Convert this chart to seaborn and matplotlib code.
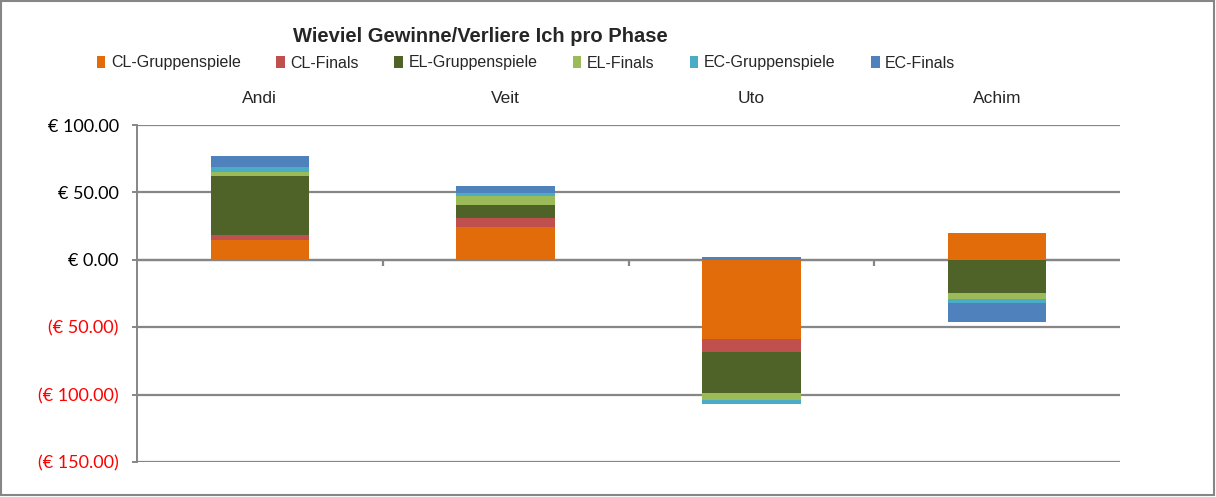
import matplotlib
matplotlib.use('Agg')
import matplotlib.pyplot as plt
import matplotlib.font_manager as fm
from matplotlib.patches import Patch, Rectangle
from matplotlib.ticker import FuncFormatter
import numpy as np
import pandas as pd
import seaborn as sns

# Daten
spieler = ['Andi', 'Veit', 'Uto', 'Achim']
phasen = ['CL-Gruppenspiele', 'CL-Finals', 'EL-Gruppenspiele', 'EL-Finals', 'EC-Gruppenspiele', 'EC-Finals']
cl_gruppe = [14.5, 24.0, -59.0, 20.0]
cl_finals = [4.2, 6.7, -9.6, -0.5]
el_gruppe = [43.7, 9.8, -30.4, -24.0]
el_finals = [3.0, 7.2, -5.2, -4.5]
ec_gruppe = [3.7, 1.7, -2.8, -3.0]
ec_finals = [7.6, 5.0, 2.2, -13.8]
farben = ['#E36C0A', '#C0504D', '#4F6228', '#9BBB59', '#4BACC6', '#4F81BD']

sns.set_style('white')
namen = [f.name for f in fm.fontManager.ttflist]
schrift = 'Liberation Sans Narrow' if 'Liberation Sans Narrow' in namen else 'Liberation Sans'
plt.rcParams['font.family'] = [schrift, 'DejaVu Sans']

df = pd.DataFrame(dict(zip(phasen, [cl_gruppe, cl_finals, el_gruppe, el_finals, ec_gruppe, ec_finals])), index=spieler)

fig = plt.figure(figsize=(12.16, 4.97), dpi=100)
ax = fig.add_axes([137 / 1216, 1 - 462 / 497, (1120 - 137) / 1216, (462 - 125) / 497])

# gestapelte Balken: positive nach oben, negative nach unten
x = np.arange(len(spieler))
pos_basis = np.zeros(len(spieler))
neg_basis = np.zeros(len(spieler))
for phase, farbe in zip(phasen, farben):
    werte = df[phase].values
    basis = np.where(werte >= 0, pos_basis, neg_basis)
    ax.bar(x, werte, width=0.4, bottom=basis, color=farbe, linewidth=0, zorder=3)
    pos_basis = pos_basis + np.clip(werte, 0, None)
    neg_basis = neg_basis + np.clip(werte, None, 0)

ax.set_xlim(-0.5, 3.5)
ax.set_ylim(-150, 100)
ax.set_yticks([100, 50, 0, -50, -100, -150])
ax.yaxis.grid(True, color='#868686', linewidth=1.6, zorder=0)

def euro(v, pos):
    if v < 0:
        return '(€ %.2f)' % abs(v)
    return '€ %.2f' % v
ax.yaxis.set_major_formatter(FuncFormatter(euro))
ax.tick_params(axis='y', left=True, length=3.6, color='#868686', width=1.4, pad=9.5)

ax.xaxis.set_ticks_position('top')
ax.set_xticks(x)
ax.set_xticklabels(spieler)
ax.tick_params(axis='x', top=False, bottom=False, labelsize=12.5, pad=10)

# Achse bei Null mit Teilstrichen
ax.axhline(0, color='#868686', linewidth=1.6, zorder=2)
ax.vlines([0.5, 1.5, 2.5], -4.5, 0, color='#868686', linewidth=1.6, zorder=2)

for s in ['top', 'right', 'bottom']:
    ax.spines[s].set_visible(False)
ax.spines['left'].set_color('#868686')
ax.spines['left'].set_linewidth(1.4)

fig.canvas.draw()
for lbl in ax.get_yticklabels():
    lbl.set_fontfamily(['Lato', 'DejaVu Sans'])
    lbl.set_fontsize(13)
    lbl.set_color('red' if lbl.get_text().startswith('(') else 'black')

fig.text(480 / 1216, 1 - 37 / 497, 'Wieviel Gewinne/Verliere Ich pro Phase',
         ha='center', va='center', fontsize=14.5, fontweight='bold')

griffe = [Patch(facecolor=f, edgecolor='none') for f in farben]
fig.legend(griffe, phasen, loc='center', bbox_to_anchor=(526 / 1216, 1 - 63 / 497), ncol=6,
           frameon=False, fontsize=11.5, handlelength=0.55, handleheight=0.75, handletextpad=0.35,
           columnspacing=2.2)

fig.patches.append(Rectangle((0.001, 0.004), 0.997, 0.993, transform=fig.transFigure,
                             fill=False, edgecolor='#868686', linewidth=1.5))

fig.savefig('out.png', dpi=100)
